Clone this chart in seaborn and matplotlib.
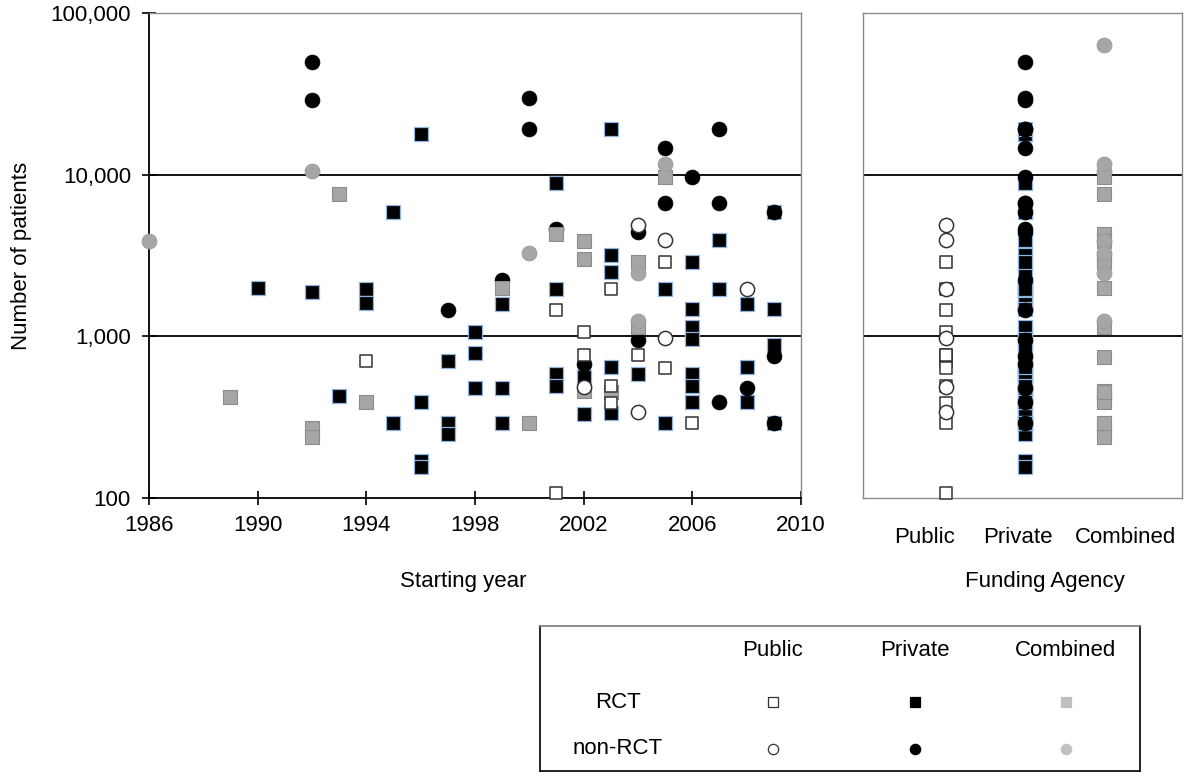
import matplotlib
matplotlib.use("Agg")
import matplotlib.pyplot as plt
from matplotlib.ticker import FuncFormatter, NullLocator
import pandas as pd
import seaborn as sns

# values: starting year and number of patients per study
private_rct_year = [1990, 1992, 1993, 1994, 1994, 1995, 1995, 1996, 1996, 1996, 1996,
                    1997, 1997, 1997, 1998, 1998, 1998, 1999, 1999, 1999,
                    2001, 2001, 2001, 2001, 2002, 2002, 2003, 2003, 2003, 2003, 2003,
                    2004, 2005, 2005, 2006, 2006, 2006, 2006, 2006, 2006, 2006,
                    2007, 2007, 2008, 2008, 2008, 2009, 2009, 2009, 2009]
private_rct_n = [2000, 1870, 430, 1970, 1600, 5900, 290, 17800, 390, 170, 155,
                 700, 290, 250, 1060, 785, 480, 1590, 480, 290,
                 8900, 1950, 585, 490, 560, 330, 19300, 3200, 2500, 650, 335,
                 585, 1950, 290, 2900, 1470, 1150, 960, 585, 490, 390,
                 3950, 1950, 1575, 650, 390, 5900, 1470, 890, 290]

private_nonrct_year = [1992, 1992, 1997, 1999, 2000, 2000, 2001, 2002, 2004, 2004,
                       2005, 2005, 2006, 2007, 2007, 2007, 2008, 2009, 2009, 2009]
private_nonrct_n = [50000, 29000, 1450, 2240, 30000, 19300, 4600, 670, 4400, 950,
                    14600, 6700, 9700, 19300, 6700, 390, 480, 5900, 760, 290]

public_rct_year = [1994, 2001, 2001, 2002, 2002, 2003, 2003, 2003, 2004, 2005, 2005, 2006]
public_rct_n = [700, 1450, 107, 1060, 770, 1950, 490, 385, 770, 2900, 640, 290]

public_nonrct_year = [2002, 2004, 2004, 2005, 2005, 2008]
public_nonrct_n = [485, 4900, 340, 3950, 970, 1950]

combined_rct_year = [1989, 1992, 1992, 1993, 1994, 1999, 2000, 2001, 2002, 2002, 2002,
                     2003, 2004, 2004, 2005]
combined_rct_n = [420, 270, 240, 7600, 390, 2000, 290, 4300, 3900, 3000, 460,
                  450, 2900, 1150, 9700]

combined_nonrct_year = [1986, 1992, 2000, 2004, 2004, 2005]
combined_nonrct_n = [3900, 10500, 3300, 2450, 1250, 11700]

# studies shown only in the funding panel (no starting year)
nodate_combined_rct_n = [750]
nodate_combined_nonrct_n = [63000]

funding_order = ["Public", "Private", "Combined"]
design_order = ["RCT", "non-RCT"]
year_ticks = list(range(1986, 2011, 4))
patient_ticks = [100, 1000, 10000, 100000]
grid_values = [1000, 10000]
# the funding labels sit a little off their columns in the original
funding_label_shift = [-0.27, -0.09, 0.27]

groups = [
    ("Private", "RCT", private_rct_year, private_rct_n),
    ("Private", "non-RCT", private_nonrct_year, private_nonrct_n),
    ("Combined", "RCT", combined_rct_year, combined_rct_n),
    ("Combined", "non-RCT", combined_nonrct_year, combined_nonrct_n),
    ("Public", "RCT", public_rct_year, public_rct_n),
    ("Public", "non-RCT", public_nonrct_year, public_nonrct_n),
]
rows = []
for funding, design, years, ns in groups:
    for yr, n in zip(years, ns):
        rows.append({"funding": funding, "design": design, "year": yr, "patients": n})
for n in nodate_combined_rct_n:
    rows.append({"funding": "Combined", "design": "RCT", "year": None, "patients": n})
for n in nodate_combined_nonrct_n:
    rows.append({"funding": "Combined", "design": "non-RCT", "year": None, "patients": n})
df = pd.DataFrame(rows)
df["fund_pos"] = df["funding"].map({f: i for i, f in enumerate(funding_order)})
dated = df.dropna(subset=["year"])

styles = {
    ("Private", "RCT"): dict(marker="s", color="black", edgecolor="#8fb4e0", linewidth=0.9, s=88),
    ("Private", "non-RCT"): dict(marker="o", color="black", edgecolor="black", linewidth=0.5, s=115),
    ("Combined", "RCT"): dict(marker="s", color="#a6a6a6", edgecolor="#8c8c8c", linewidth=0.8, s=88),
    ("Combined", "non-RCT"): dict(marker="o", color="#a6a6a6", edgecolor="#9a9a9a", linewidth=0.6, s=115),
    ("Public", "RCT"): dict(marker="s", color="white", edgecolor="#333333", linewidth=1.1, s=80),
    ("Public", "non-RCT"): dict(marker="o", color="white", edgecolor="#333333", linewidth=1.1, s=105),
}
legend_colors = {"Public": ("white", "#333333"), "Private": ("black", "black"),
                 "Combined": ("#c0c0c0", "#c0c0c0")}

sns.set_theme(style="white")
plt.rcParams["font.family"] = ["Liberation Sans", "DejaVu Sans"]
plt.rcParams["text.color"] = "black"
plt.rcParams["axes.labelcolor"] = "black"

W, H = 1200, 782
fig = plt.figure(figsize=(12, 7.82), dpi=100)
ax = fig.add_axes([149 / W, 1 - 498 / H, 652 / W, 485 / H])
ax_r = fig.add_axes([863 / W, 1 - 498 / H, 319 / W, 485 / H])

for axis in (ax, ax_r):
    axis.set_yscale("log")
    axis.set_ylim(patient_ticks[0], patient_ticks[-1])
    for v in grid_values:
        axis.axhline(v, color="black", lw=1.3, zorder=1)

for funding, design, _, _ in groups:
    st = styles[(funding, design)]
    sub = dated[(dated.funding == funding) & (dated.design == design)]
    sns.scatterplot(data=sub, x="year", y="patients", ax=ax, legend=False, zorder=3,
                    clip_on=False, **st)
    sub_all = df[(df.funding == funding) & (df.design == design)]
    sns.scatterplot(data=sub_all, x="fund_pos", y="patients", ax=ax_r, legend=False, zorder=3,
                    clip_on=False, **st)

# left panel: starting year
ax.set_xlim(year_ticks[0], year_ticks[-1])
ax.set_xticks(year_ticks)
ax.set_yticks(patient_ticks)
ax.yaxis.set_minor_locator(NullLocator())
ax.yaxis.set_major_formatter(FuncFormatter(lambda v, p: f"{int(v):,}"))
ax.tick_params(axis="both", which="major", direction="inout", length=10, width=1.2,
               color="black", labelsize=16, labelcolor="black", bottom=True, left=True)
ax.tick_params(axis="x", pad=7)
ax.tick_params(axis="y", pad=8)
ax.set_xlabel("")
ax.set_ylabel("Number of patients", fontsize=16, color="black")
ax.yaxis.set_label_coords(-0.18, 0.5)
for side in ("left", "bottom"):
    ax.spines[side].set_color("black")
    ax.spines[side].set_linewidth(1.3)
for side in ("top", "right"):
    ax.spines[side].set_color("#8a8a8a")
    ax.spines[side].set_linewidth(1.0)

# right panel: funding agency
ax_r.set_xlim(-1.05, 2.99)
ax_r.set_xticks([i + d for i, d in enumerate(funding_label_shift)])
ax_r.set_xticklabels(funding_order)
ax_r.set_yticks([])
ax_r.yaxis.set_minor_locator(NullLocator())
ax_r.tick_params(axis="x", length=0, labelsize=16, labelcolor="black", pad=21)
ax_r.set_xlabel("")
ax_r.set_ylabel("")
for side in ax_r.spines:
    ax_r.spines[side].set_color("#8a8a8a")
    ax_r.spines[side].set_linewidth(1.0)

fig.text(463 / W, 1 - 581 / H, "Starting year", ha="center", va="center", fontsize=16)
fig.text(1045 / W, 1 - 582 / H, "Funding Agency", ha="center", va="center", fontsize=16)

# legend table
leg = fig.add_axes([540 / W, 1 - 771 / H, 600 / W, 145 / H])
leg.set_xlim(540, 1140)
leg.set_ylim(771, 626)
leg.set_xticks([])
leg.set_yticks([])
leg.set_facecolor("white")
for side in leg.spines:
    leg.spines[side].set_color("black")
    leg.spines[side].set_linewidth(1.2)
leg.spines["top"].set_color("#7a7a7a")

col_x = [773, 915, 1066]
row_y = [702, 749]
for cx, funding in zip(col_x, funding_order):
    leg.text(cx, 651, funding, ha="center", va="center", fontsize=16)
for ry, design in zip(row_y, design_order):
    leg.text(618, ry, design, ha="center", va="center", fontsize=16)
    for cx, funding in zip(col_x, funding_order):
        face, edge = legend_colors[funding]
        leg.scatter([cx], [ry], marker="s" if design == "RCT" else "o",
                    s=48 if design == "RCT" else 55, facecolor=face, edgecolor=edge,
                    linewidth=0.9)

fig.savefig("out.png", dpi=100)
